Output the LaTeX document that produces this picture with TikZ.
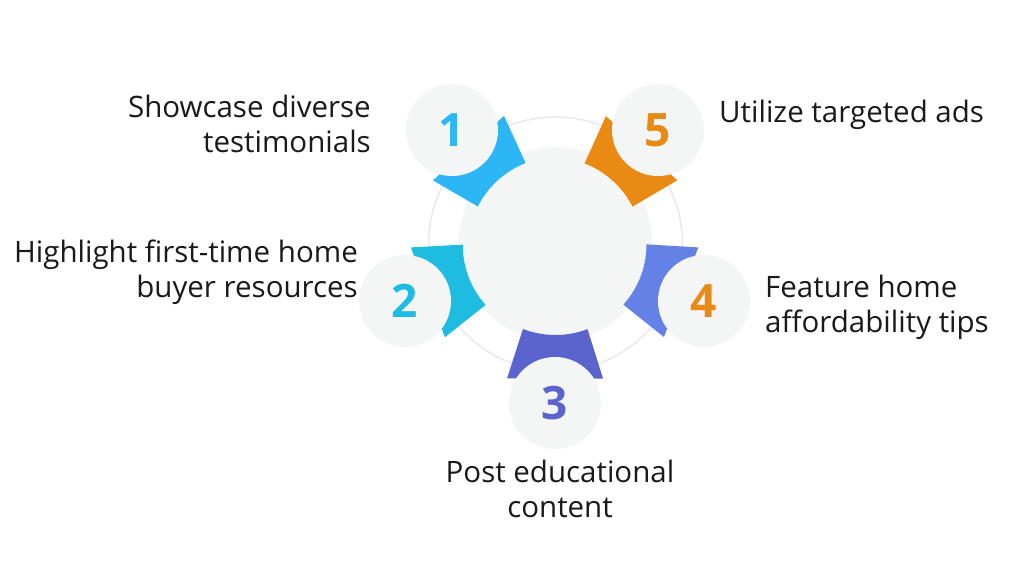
\documentclass[tikz,border=0pt]{standalone}
\usepackage{fontspec}
\setmainfont{Open Sans}
\usetikzlibrary{calc}
\definecolor{c1}{HTML}{2DB6F6}
\definecolor{c2}{HTML}{1FBCE2}
\definecolor{c3}{HTML}{5B63CC}
\definecolor{c4}{HTML}{6482E6}
\definecolor{c5}{HTML}{E88A13}
\definecolor{disc}{HTML}{F4F5F5}
\definecolor{ringc}{HTML}{EAEAEA}
\definecolor{txt}{HTML}{1A1A1A}
\tikzset{
  numdisc/.style={circle, fill=disc, minimum size=92pt, inner sep=0pt,
    font=\fontsize{46}{46}\selectfont\bfseries},
  lbl/.style={font=\fontsize{29.5}{35}\selectfont, text=txt, inner sep=0pt},
  ringline/.style={draw=ringc, line width=1.6pt},
}
% petal between hub and number disc #1, colour #2
\newcommand{\petal}[2]{%
  \begin{scope}
    \clip ($(#1)!24.5pt!(C)!48pt!-90:(C)$)
      -- ($(#1)!24.5pt!(C)!48pt!90:(C)$)
      -- ($(#1)!91.5pt!(C)!26.7pt!90:(C)$)
      -- ($(#1)!91.5pt!(C)!26.7pt!-90:(C)$) -- cycle;
    \fill[#2, even odd rule] (C) circle[radius=300]
      ($(#1)!158pt!(C)$) circle[radius=90];
  \end{scope}}
\begin{document}
\begin{tikzpicture}[x=1pt,y=-1pt]
  \useasboundingbox (0,0) rectangle (1024,576);
  \fill[white] (0,0) rectangle (1024,576);
  \coordinate (C) at (555.5,244);
  \coordinate (p1) at (452,130);
  \coordinate (p2) at (405,301);
  \coordinate (p3) at (555,403);
  \coordinate (p4) at (704,301);
  \coordinate (p5) at (658,130);
  % outer thin ring
  \draw[ringline] (C) circle[radius=127];
  % centre disc
  \node[circle, fill=disc, minimum size=194pt, inner sep=0pt] (hub) at (C) {};
  % petals
  \petal{p1}{c1}
  \petal{p2}{c2}
  \petal{p3}{c3}
  \petal{p4}{c4}
  \petal{p5}{c5}
  % number discs
  \node[numdisc, text=c1] (n1) at (p1) {1};
  \node[numdisc, text=c2] (n2) at (p2) {2};
  \node[numdisc, text=c3] (n3) at (p3) {3};
  \node[numdisc, text=c5] (n4) at (p4) {4};
  \node[numdisc, text=c5] (n5) at (p5) {5};
  % labels
  \node[lbl, anchor=east, align=right] (t1) at (371,124) {Showcase diverse\\testimonials};
  \node[lbl, anchor=east, align=right] (t2) at (358,272) {Highlight first-time home\\buyer resources};
  \node[lbl, align=center] (t3) at (560,489) {Post educational\\content};
  \node[lbl, anchor=west, align=left] (t4) at (765,307) {Feature home\\affordability tips};
  \node[lbl, anchor=west, align=left] (t5) at (719,115) {Utilize targeted ads};
\end{tikzpicture}
\end{document}
